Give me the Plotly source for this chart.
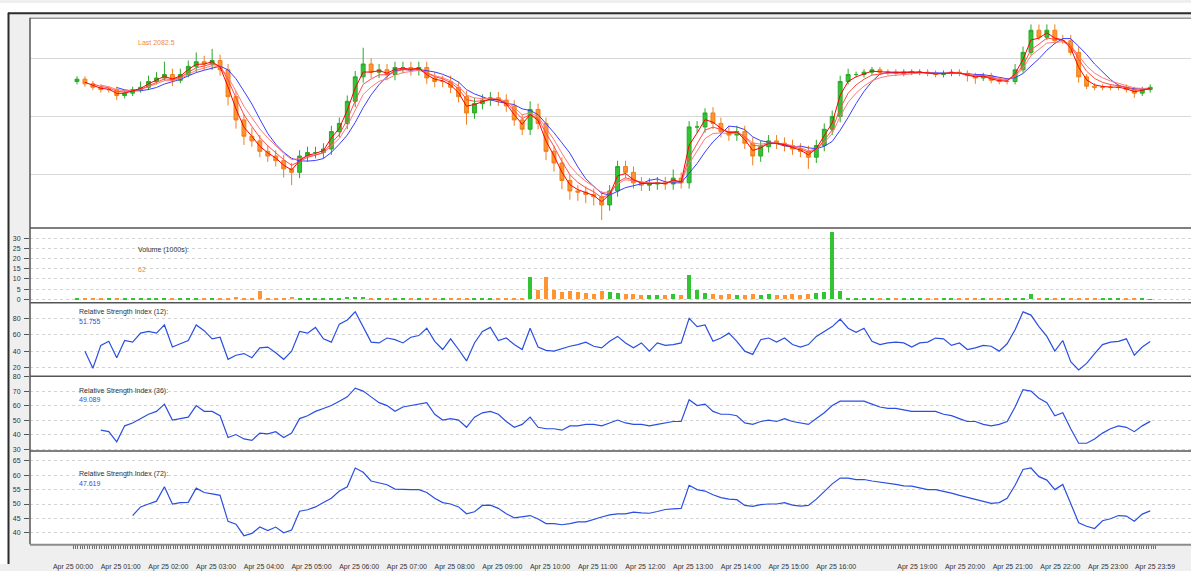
import numpy as np
import pandas as pd
import plotly.graph_objects as go

# ---------------- data: ES 1-minute session, sampled every 10 bars ----------------
close = [
    2083.2, 2082.8, 2082.5, 2082.3, 2082.3, 2081.8, 2082.0, 2082.3, 2082.5, 2083.0,
    2083.3, 2083.6, 2083.1, 2083.6, 2084.3, 2084.7, 2084.5, 2084.8, 2084.0, 2081.7,
    2079.7, 2078.3, 2077.9, 2077.0, 2076.6, 2076.2, 2075.5, 2075.2, 2076.6, 2076.9,
    2076.9, 2077.2, 2078.7, 2079.4, 2081.3, 2083.4, 2084.5, 2083.8, 2084.0, 2083.6,
    2084.2, 2084.2, 2084.0, 2084.2, 2083.3, 2083.0, 2083.0, 2082.5, 2081.7, 2080.3,
    2081.1, 2081.4, 2081.6, 2081.4, 2080.9, 2079.7, 2078.9, 2080.6, 2079.4, 2077.0,
    2076.0, 2074.5, 2073.6, 2073.5, 2073.3, 2073.1, 2072.4, 2073.6, 2075.7, 2075.2,
    2074.3, 2074.1, 2074.2, 2074.3, 2074.2, 2074.7, 2074.3, 2079.1, 2079.1, 2080.3,
    2079.4, 2078.7, 2078.4, 2078.7, 2077.7, 2076.6, 2077.4, 2077.9, 2077.7, 2077.5,
    2077.2, 2077.0, 2076.5, 2077.5, 2078.9, 2080.0, 2083.0, 2083.6, 2083.6, 2083.8,
    2084.0, 2083.8, 2083.8, 2083.7, 2083.8, 2083.8, 2083.8, 2083.7, 2083.6, 2083.7,
    2083.8, 2083.7, 2083.5, 2083.3, 2083.5, 2083.1, 2083.0, 2083.0, 2084.0, 2085.5,
    2087.4, 2086.8, 2087.4, 2086.5, 2086.5, 2085.5, 2083.4, 2082.6, 2082.5, 2082.5,
    2082.5, 2082.5, 2082.3, 2082.0, 2082.3, 2082.5,
]
first_open = 2083.0

# distance from candle body to the high / low
wick_hi = [
    0.25, 0.25, 0.25, 0.25, 0.25, 0.25, 0.25, 0.25, 0.5, 0.5,
    0.5, 1.1, 0.5, 0.5, 0.5, 0.8, 0.5, 1.0, 0.5, 0.5,
    0.5, 0.5, 0.75, 0.5, 0.5, 0.5, 0.5, 0.5, 0.5, 0.5,
    0.5, 0.5, 0.5, 0.5, 0.5, 0.5, 1.4, 0.5, 0.5, 0.5,
    0.5, 0.5, 0.5, 0.5, 0.5, 0.5, 0.5, 0.5, 0.5, 0.5,
    0.5, 0.5, 0.5, 0.5, 0.5, 0.5, 0.5, 0.7, 0.5, 0.5,
    0.5, 0.5, 0.5, 0.5, 0.5, 0.5, 0.5, 0.5, 0.5, 0.5,
    0.5, 0.5, 0.5, 0.5, 0.5, 0.75, 0.5, 0.5, 0.5, 0.4,
    0.5, 0.5, 0.5, 0.5, 0.5, 0.5, 0.5, 0.5, 0.5, 0.5,
    0.5, 0.5, 0.5, 0.5, 0.5, 0.5, 0.5, 0.5, 0.25, 0.25,
    0.25, 0.25, 0.25, 0.25, 0.25, 0.25, 0.25, 0.25, 0.25, 0.25,
    0.25, 0.25, 0.25, 0.25, 0.25, 0.25, 0.25, 0.25, 0.5, 0.5,
    0.5, 0.5, 0.5, 0.5, 0.5, 0.5, 0.5, 0.25, 0.25, 0.25,
    0.25, 0.25, 0.25, 0.25, 0.25, 0.25,
]
wick_lo = [
    0.25, 0.25, 0.25, 0.25, 0.25, 0.4, 0.25, 0.25, 0.25, 0.25,
    0.25, 0.25, 0.5, 0.25, 0.25, 0.5, 0.5, 0.5, 0.5, 0.75,
    0.75, 0.75, 0.5, 0.5, 0.5, 0.5, 0.75, 1.1, 0.5, 0.5,
    0.5, 0.5, 0.5, 0.5, 0.5, 0.5, 0.5, 0.5, 0.5, 0.5,
    0.5, 0.5, 0.5, 0.5, 0.5, 0.5, 0.5, 0.5, 0.5, 1.0,
    0.5, 0.5, 0.5, 0.5, 0.5, 0.5, 0.5, 0.5, 0.5, 0.75,
    0.75, 0.75, 0.75, 0.75, 0.75, 0.75, 1.3, 0.5, 0.5, 0.5,
    0.5, 0.5, 0.5, 0.5, 0.5, 0.5, 0.5, 0.5, 0.5, 0.5,
    0.5, 0.5, 0.5, 0.5, 0.5, 0.8, 0.5, 0.5, 0.5, 0.5,
    0.5, 0.5, 1.0, 0.5, 0.5, 0.5, 0.5, 0.25, 0.25, 0.25,
    0.25, 0.25, 0.25, 0.25, 0.25, 0.25, 0.25, 0.25, 0.25, 0.25,
    0.25, 0.25, 0.5, 0.5, 0.25, 0.25, 0.25, 0.25, 0.25, 0.25,
    0.25, 0.25, 0.25, 0.25, 0.25, 0.25, 0.5, 0.25, 0.25, 0.25,
    0.25, 0.25, 0.25, 0.4, 0.25, 0.25,
]

# volume in thousands of contracts
volume_k = [
    0.3, 0.2, 0.3, 0.2, 0.3, 0.3, 0.2, 0.3, 0.3, 0.2,
    0.3, 0.4, 0.3, 0.3, 0.3, 0.4, 0.3, 0.3, 0.6, 0.8,
    1.0, 0.8, 0.9, 4.0, 0.8, 0.7, 0.9, 1.0, 0.8, 0.7,
    0.6, 0.8, 0.7, 0.9, 1.0, 1.2, 1.0, 0.8, 0.7, 0.6,
    0.5, 0.6, 0.5, 0.5, 0.6, 0.5, 0.7, 0.6, 0.6, 0.8,
    0.6, 0.5, 0.5, 0.6, 0.5, 0.6, 0.9, 11.0, 4.5, 11.0,
    4.5, 3.5, 4.0, 3.5, 3.0, 2.8, 4.0, 3.5, 3.0, 2.5,
    2.5, 2.2, 2.0, 2.2, 2.0, 2.5, 2.2, 12.0, 4.5, 3.0,
    2.5, 2.2, 2.5, 2.0, 2.2, 2.8, 2.2, 2.5, 2.0, 2.2,
    2.5, 2.4, 2.8, 3.0, 3.5, 33.0, 4.0, 0.3, 0.2, 0.2,
    0.2, 0.2, 0.3, 0.2, 0.2, 0.3, 0.2, 0.2, 0.3, 0.2,
    0.2, 0.3, 0.2, 0.2, 0.3, 0.2, 0.3, 0.2, 0.4, 0.6,
    2.5, 0.5, 0.3, 0.3, 0.2, 0.3, 0.4, 0.3, 0.2, 0.2,
    0.2, 0.2, 0.3, 0.2, 0.2, 0.062,
]

rsi_12 = [
    None, 40, 19, 47, 52, 32, 53, 51, 62, 64,
    62, 72, 45, 49, 53, 72, 65, 55, 57, 30,
    35, 37, 32, 44, 45, 38, 30, 40, 64, 62,
    69, 55, 51, 73, 78, 88, 70, 51, 50, 56,
    54, 50, 57, 59, 68, 52, 42, 55, 42, 28,
    50, 64, 69, 53, 56, 48, 42, 68, 45, 41,
    40, 43, 46, 48, 51, 46, 44, 52, 58, 50,
    44, 50, 40, 50, 47, 48, 50, 80, 70, 72,
    52, 56, 62, 52, 40, 36, 54, 56, 51, 56,
    48, 45, 48, 58, 64, 70, 79, 68, 63, 68,
    52, 48, 50, 51, 50, 45, 50, 51, 56, 55,
    47, 50, 42, 44, 47, 46, 40, 49, 66, 88,
    84, 70, 58, 40, 53, 27, 17, 25, 37, 48,
    51, 52, 55, 35, 45, 51.755,
]
rsi_36 = [
    None, None, None, 43, 42, 35, 46, 48, 51, 54,
    56, 61, 50, 51, 52, 60, 56, 56, 53, 38,
    40, 37, 36, 41, 40.5, 42, 38, 41, 51, 53,
    56, 58, 60, 63, 66, 72, 70, 66, 62, 60,
    56, 59, 60, 61, 62, 54, 50, 51, 50, 45,
    52, 55, 56, 54, 49, 45, 47, 52, 45, 44,
    44, 43, 46, 46, 47, 47, 46, 48, 50, 48,
    47, 47, 46, 47, 48, 49, 49, 64, 60, 61,
    56, 54, 54, 53, 48, 47, 49, 50, 49, 51,
    49, 48, 47, 51, 55, 60, 63, 63, 63, 63,
    61, 59, 58, 58, 57, 56, 56, 56, 56, 54,
    53, 51, 49, 49, 47, 46, 47, 49, 59, 71,
    70, 65, 62, 53, 55, 44, 34, 34, 37, 41,
    44, 46, 45, 42, 46, 49.089,
]
rsi_72 = [
    None, None, None, None, None, None, None, 46, 49, 50,
    51, 56, 50, 50.5, 50.6, 55.5, 54, 53.5, 53, 44,
    43, 39, 39.8, 42, 40.8, 42, 40, 41, 47.5, 48,
    49, 50.5, 52, 54.5, 56, 62.5, 61, 58, 57.4, 56.7,
    55.2, 55, 55, 55, 54, 52, 50.5, 50, 49, 46.6,
    47.3, 49.5, 49.6, 48.5, 46.6, 45.2, 45.5, 46, 44.8, 43.2,
    43.2, 42.8, 43.2, 43.8, 43.8, 44.7, 45.5, 46.2, 46.6, 46.6,
    47.2, 46.9, 46.8, 47.4, 48.1, 48.3, 48.5, 56.5, 55, 54.5,
    53.2, 52.2, 51.7, 51.5, 49.5, 49.2, 49.8, 50, 50, 50.5,
    49.6, 49.3, 49.5, 51.7, 54.4, 57, 59, 59, 58.5, 58.5,
    58, 57.6, 57.4, 56.8, 56.3, 56.2, 55.6, 55, 55, 54.5,
    53.8, 53, 52.3, 51.7, 50.8, 50.2, 50.5, 52, 56.5, 62,
    62.5, 59.5, 58.3, 55, 56.8, 50, 43.5, 42.3, 41.5, 44.2,
    44.9, 46, 45.8, 44, 46.5, 47.619,
]

# session clock: bar number of each labelled hour (17:00-18:00 mostly missing)
hour_bars = [0, 60, 120, 180, 240, 300, 360, 420, 480, 540, 600, 660, 720,
             780, 840, 900, 960, 1062, 1122, 1182, 1242, 1302, 1361]
hour_labels = ["Apr 25 00:00", "Apr 25 01:00", "Apr 25 02:00", "Apr 25 03:00",
               "Apr 25 04:00", "Apr 25 05:00", "Apr 25 06:00", "Apr 25 07:00",
               "Apr 25 08:00", "Apr 25 09:00", "Apr 25 10:00", "Apr 25 11:00",
               "Apr 25 12:00", "Apr 25 13:00", "Apr 25 14:00", "Apr 25 15:00",
               "Apr 25 16:00", "Apr 25 19:00", "Apr 25 20:00", "Apr 25 21:00",
               "Apr 25 22:00", "Apr 25 23:00", "Apr 25 23:59"]

# ---------------- derived series ----------------
bars = np.arange(len(close)) * 10 + 5
opens = [first_open] + close[:-1]
highs = [max(o, c) + w for o, c, w in zip(opens, close, wick_hi)]
lows = [min(o, c) - w for o, c, w in zip(opens, close, wick_lo)]
up = [c >= o for o, c in zip(opens, close)]

s = pd.Series(close)
ma_fast = s.ewm(span=2, adjust=False).mean().where(s.index >= 1)
ma_mid = s.ewm(span=3.5, adjust=False).mean().where(s.index >= 2)
ma_slow = s.ewm(span=5, adjust=False).mean().where(s.index >= 3)
ma_long = s.rolling(6).mean()

# x-axis tick marks: a dense comb of bar ticks plus the labelled hours
minor_marks = set(range(0, hour_bars[-1] + 1, 3))
tick_pos = sorted(minor_marks | set(hour_bars))
hour_text = dict(zip(hour_bars, hour_labels))
tick_txt = [hour_text.get(t, "") for t in tick_pos]

# ---------------- page geometry ----------------
W, H = 1191, 571
GREEN, ORANGE = "#33c433", "#ff9430"
FONT = "Liberation Sans, Arial, sans-serif"
TXT = "#333333"
RSI_BLUE = "#2a4fe0"


def fy(px):
    return 1 - px / H


def fx(px):
    return px / W


X_DOM = [fx(30), 1.0]
X_RANGE = [(30 - 73) / 0.795, (W - 73) / 0.795]

panels = {  # pixel top / bottom of each stacked panel
    "y": (16, 229), "y2": (229, 305), "y3": (305, 380), "y4": (380, 456), "y5": (456, 551),
}

fig = go.Figure()

fig.add_trace(go.Candlestick(
    x=bars, open=opens, high=highs, low=lows, close=close,
    xaxis="x", yaxis="y", whiskerwidth=0,
    increasing=dict(line=dict(color="#2aa82a", width=1), fillcolor=GREEN),
    decreasing=dict(line=dict(color="#f07f1a", width=1), fillcolor=ORANGE),
    showlegend=False, hoverinfo="skip",
))
for ma, col in [(ma_long, "#3c3cff"), (ma_slow, "#ff7a7a"), (ma_mid, "#ff4a4a"), (ma_fast, "#ff0000")]:
    fig.add_trace(go.Scatter(x=bars, y=ma, mode="lines", line=dict(color=col, width=1),
                             xaxis="x", yaxis="y", showlegend=False, hoverinfo="skip"))

fig.add_trace(go.Bar(
    x=bars, y=volume_k, width=5, marker=dict(color=[GREEN if u else ORANGE for u in up], line=dict(width=0)),
    xaxis="x2", yaxis="y2", showlegend=False, hoverinfo="skip",
))

for rsi, ax in [(rsi_12, "3"), (rsi_36, "4"), (rsi_72, "5")]:
    fig.add_trace(go.Scatter(x=bars, y=rsi, mode="lines", line=dict(color=RSI_BLUE, width=1.2),
                             xaxis="x" + ax, yaxis="y" + ax, showlegend=False, hoverinfo="skip"))

tickfont = dict(family=FONT, size=7, color=TXT)


def yaxis(name, rng, tickvals, labels=True, grid_dash="dot", gridcolor="#d2d2d2"):
    top, bot = panels[name]
    return dict(
        domain=[fy(bot), fy(top)], range=rng, tickvals=tickvals,
        showticklabels=labels, ticks="outside" if labels else "", ticklen=5, tickcolor="#555",
        tickfont=tickfont, ticklabelstandoff=2,
        showgrid=True, gridcolor=gridcolor, griddash=grid_dash, gridwidth=1,
        zeroline=False, showline=False, fixedrange=True,
    )


layout = dict(
    width=W, height=H, margin=dict(l=0, r=0, t=0, b=0),
    paper_bgcolor="#efefef", plot_bgcolor="#ffffff",
    showlegend=False, bargap=0,
    yaxis=yaxis("y", [2070.42, 2088.39], [2075, 2080, 2085], labels=False,
                grid_dash="solid", gridcolor="#d8d8d8"),
    yaxis2=yaxis("y2", [-1.6, 34.95], [0, 5, 10, 15, 20, 25, 30]),
    yaxis3=yaxis("y3", [9.2, 99.2], [20, 40, 60, 80]),
    yaxis4=yaxis("y4", [28.65, 80.15], [30, 40, 50, 60, 70, 80]),
    yaxis5=yaxis("y5", [36.0, 68.4], [40, 45, 50, 55, 60, 65]),
)
for ax in ["", "2", "3", "4", "5"]:
    xa = dict(domain=X_DOM, range=X_RANGE, showgrid=False, zeroline=False,
              showline=False, fixedrange=True, rangeslider=dict(visible=False),
              anchor="y" + ax)
    if ax == "5":
        xa.update(tickmode="array", tickvals=tick_pos, ticktext=tick_txt,
                  ticks="outside", ticklen=4, tickcolor="#707070", tickwidth=1,
                  tickfont=tickfont, ticklabelstandoff=11)
    else:
        xa.update(showticklabels=False, ticks="")
    if ax:
        xa["matches"] = "x"
    layout["xaxis" + ax] = xa

# frame, panel borders
shapes = [
    dict(type="rect", xref="paper", yref="paper", x0=0, x1=1, y0=fy(10), y1=1,
         fillcolor="#ffffff", line=dict(width=0), layer="below"),
    dict(type="rect", xref="paper", yref="paper", x0=0, x1=fx(8), y0=0, y1=1,
         fillcolor="#ffffff", line=dict(width=0), layer="below"),
    dict(type="line", xref="paper", yref="paper", x0=fx(8), x1=1, y0=fy(10.5), y1=fy(10.5),
         line=dict(color="#2b2b2b", width=2)),
    dict(type="line", xref="paper", yref="paper", x0=fx(8.5), x1=fx(8.5), y0=0, y1=fy(10),
         line=dict(color="#2b2b2b", width=2)),
    dict(type="line", xref="paper", yref="paper", x0=fx(30), x1=1, y0=fy(15.5), y1=fy(15.5),
         line=dict(color="#9a9a9a", width=1.5)),
    dict(type="line", xref="paper", yref="paper", x0=fx(30), x1=fx(30), y0=fy(551), y1=fy(15),
         line=dict(color="#555555", width=1.5)),
]
for ypx in (229, 305, 380, 456):
    shapes.append(dict(type="line", xref="paper", yref="paper", x0=fx(30), x1=1,
                       y0=fy(ypx), y1=fy(ypx), line=dict(color="#555555", width=1.5)))
shapes.append(dict(type="line", xref="paper", yref="paper", x0=fx(30), x1=1,
                   y0=fy(551.5), y1=fy(551.5), line=dict(color="#8c8c8c", width=2)))
layout["shapes"] = shapes


def note(text, xpx, ypx, color):
    return dict(text=text, xref="paper", yref="paper", x=fx(xpx), y=fy(ypx),
                xanchor="left", yanchor="middle", showarrow=False,
                font=dict(family=FONT, size=7, color=color))


layout["annotations"] = [
    note(f"Last {close[-1]}", 136, 40, "#f28a3c"),
    note("Volume (1000s):", 136, 251, TXT),
    note(f"{round(volume_k[-1] * 1000)}", 136, 271, "#f28a3c"),
    note("Relative Strength Index (12):", 77, 315, TXT),
    note(f"{rsi_12[-1]}", 77, 324, RSI_BLUE),
    note("Relative Strength Index (36):", 77, 395, TXT),
    note(f"{rsi_36[-1]}", 77, 404, RSI_BLUE),
    note("Relative Strength Index (72):", 77, 479, TXT),
    note(f"{rsi_72[-1]}", 77, 489, RSI_BLUE),
]

fig.update_layout(**layout)
fig.write_html("out.html")
